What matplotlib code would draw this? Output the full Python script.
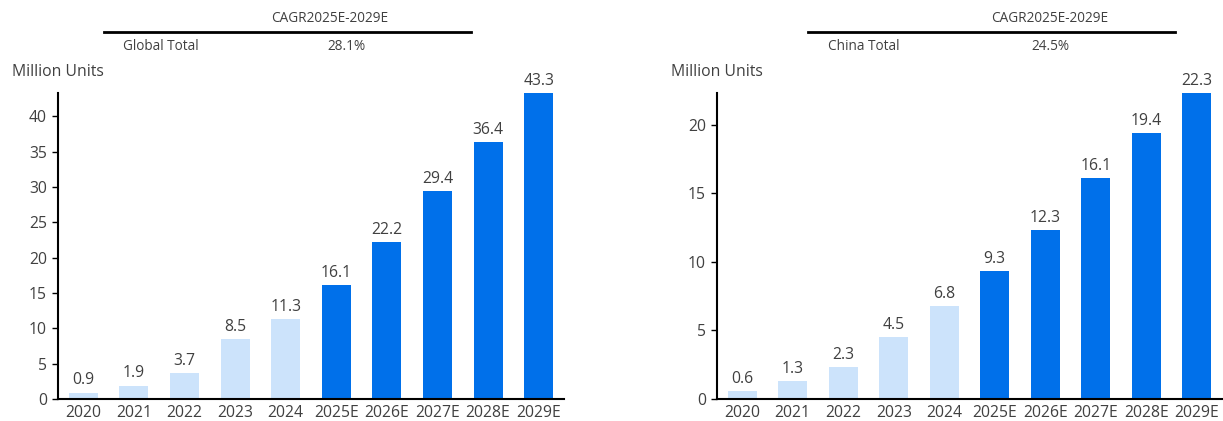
import matplotlib.pyplot as plt
import numpy as np

plt.rcParams['font.family'] = ['Open Sans', 'DejaVu Sans']

years = ['2020', '2021', '2022', '2023', '2024', '2025E', '2026E', '2027E', '2028E', '2029E']
global_vals = [0.9, 1.9, 3.7, 8.5, 11.3, 16.1, 22.2, 29.4, 36.4, 43.3]
china_vals = [0.6, 1.3, 2.3, 4.5, 6.8, 9.3, 12.3, 16.1, 19.4, 22.3]
is_forecast = [False] * 5 + [True] * 5
global_ticks = [0, 5, 10, 15, 20, 25, 30, 35, 40]
china_ticks = [0, 5, 10, 15, 20]
table_header = 'CAGR2025E-2029E'
global_row = ('Global Total', '28.1%')
china_row = ('China Total', '24.5%')

DARK = '#0070EA'
LIGHT = '#CCE3FB'
TXT = '#404040'
FS = 11.3

fig = plt.figure(figsize=(12.23, 4.21), dpi=100)
W, H = 1223, 421


def px_axes(x0, x1, ytop, ybot):
    return fig.add_axes([x0 / W, (H - ybot) / H, (x1 - x0) / W, (ybot - ytop) / H])


def draw(ax, vals, ticks):
    x = np.arange(len(years))
    colors = [DARK if f else LIGHT for f in is_forecast]
    ax.bar(x, vals, width=0.57, color=colors, zorder=2)
    for xi, v in zip(x, vals):
        ax.annotate(f'{v:.1f}', (xi, v), xytext=(0, 3), textcoords='offset points',
                    ha='center', va='bottom', fontsize=FS, color=TXT)
    ax.set_xlim(-0.5, len(years) - 0.5)
    ax.set_ylim(0, max(vals))
    ax.set_xticks(x)
    ax.set_xticklabels(years)
    ax.set_yticks(ticks)
    ax.tick_params(axis='x', length=0, pad=4, labelsize=FS, labelcolor=TXT)
    ax.tick_params(axis='y', length=4, width=1, pad=4, labelsize=FS, labelcolor=TXT, color='black')
    for s in ['top', 'right']:
        ax.spines[s].set_visible(False)
    for s in ['left', 'bottom']:
        ax.spines[s].set_linewidth(1.5)
        ax.spines[s].set_color('black')


ax1 = px_axes(58, 564, 93, 399)
draw(ax1, global_vals, global_ticks)
ax2 = px_axes(717, 1222, 93, 399)
draw(ax2, china_vals, china_ticks)


def table(xl, xr, xlabel, xval, xhead, row):
    fig.lines.append(plt.Line2D([xl / W, xr / W], [(H - 32) / H] * 2,
                                transform=fig.transFigure, color='black', lw=2))
    fig.text(xhead / W, (H - 18) / H, table_header, ha='center', va='center', fontsize=9.8, color=TXT)
    fig.text(xlabel / W, (H - 46) / H, row[0], ha='left', va='center', fontsize=9.8, color=TXT)
    fig.text(xval / W, (H - 46) / H, row[1], ha='center', va='center', fontsize=9.8, color=TXT)


table(104, 471, 123, 346, 330, global_row)
table(808, 1175, 828, 1050, 1050, china_row)

fig.text(12 / W, (H - 72) / H, 'Million Units', ha='left', va='center', fontsize=FS, color=TXT)
fig.text(671 / W, (H - 72) / H, 'Million Units', ha='left', va='center', fontsize=FS, color=TXT)

fig.savefig('out.png', dpi=100)
